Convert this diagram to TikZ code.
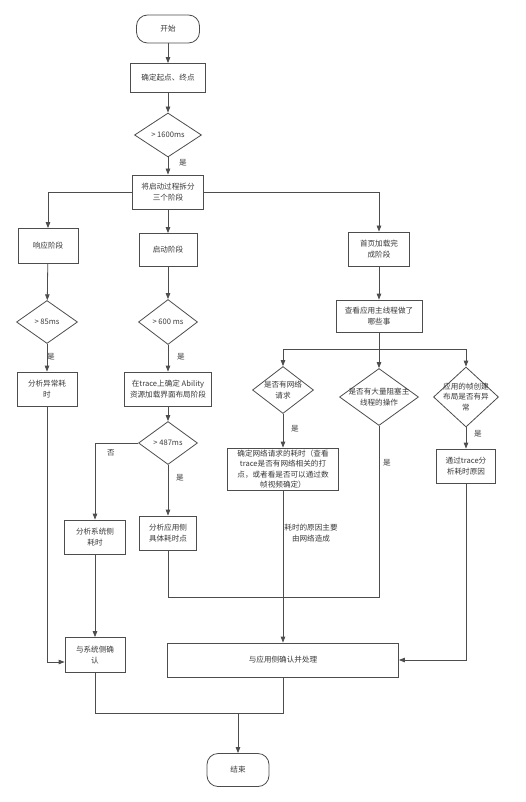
\documentclass[tikz,border=0pt]{standalone}
\usepackage{fontspec}
\setmainfont{Noto Sans CJK SC}
\usetikzlibrary{arrows.meta,shapes.geometric}
\definecolor{lc}{HTML}{4D4D4D}
\definecolor{tc}{HTML}{3A3A3A}
\newcommand{\fsz}{\fontsize{7.6}{10.4}\selectfont}
\tikzset{
  basebox/.style={draw=lc, line width=0.8pt, fill=white, align=center, inner sep=1pt, font=\fsz, text=tc},
  term/.style={basebox, rounded corners=11pt},
  dia/.style={draw=lc, line width=0.8pt, fill=white, diamond, inner sep=0pt},
  txt/.style={align=center, font=\fsz, text=tc, inner sep=0pt},
  lbl/.style={font=\fsz, text=tc, inner sep=0pt},
  arr/.style={draw=lc, line width=0.8pt, -{Triangle[length=6pt,width=4.5pt]}},
  ln/.style={draw=lc, line width=0.8pt}
}
\begin{document}
\begin{tikzpicture}[x=1pt,y=-1pt]
\useasboundingbox (0,0) rectangle (526,802);
% top column
\node[term, minimum width=63pt, minimum height=28pt] (start) at (168,29) {开始};
\node[basebox, minimum width=75pt, minimum height=29pt] (b1) at (168,78) {确定起点、终点};
\node[dia, minimum width=67pt, minimum height=44pt, label={[txt]center:> 1600ms}] (d1600) at (168,135) {};
\node[basebox, minimum width=71pt, minimum height=34pt] (split) at (168,192) {将启动过程拆分\\三个阶段};
% column 1
\node[basebox, minimum width=60pt, minimum height=35pt] (resp) at (48,246) {响应阶段};
\node[dia, minimum width=61pt, minimum height=43pt, label={[txt]center:> 85ms}] (d85) at (47,322) {};
\node[basebox, minimum width=60pt, minimum height=34pt] (abn) at (47,389) {分析异常耗\\时};
% column 2
\node[basebox, minimum width=58pt, minimum height=33pt] (startph) at (168,250) {启动阶段};
\node[dia, minimum width=59pt, minimum height=45pt, label={[txt]center:> 600 ms}] (d600) at (168,322) {};
\node[basebox, minimum width=87pt, minimum height=34pt] (trace1) at (168,389) {在trace上确定 Ability\\资源加载界面布局阶段};
\node[dia, minimum width=59pt, minimum height=43pt, label={[txt]center:> 487ms}] (d487) at (168,443) {};
\node[basebox, minimum width=61pt, minimum height=34pt] (sysan) at (95,537) {分析系统侧\\耗时};
\node[basebox, minimum width=57pt, minimum height=34pt] (appan) at (168,533) {分析应用侧\\具体耗时点};
\node[basebox, minimum width=60pt, minimum height=35pt] (syscf) at (95,655) {与系统侧确\\认};
% column 3
\node[basebox, minimum width=61pt, minimum height=34pt] (home) at (379,249) {首页加载完\\成阶段};
\node[basebox, minimum width=86pt, minimum height=32pt] (main) at (379,316) {查看应用主线程做了\\哪些事};
\node[dia, minimum width=61pt, minimum height=47pt, label={[txt]center:是否有网络\\请求}] (q1) at (283,390) {};
\node[dia, minimum width=79pt, minimum height=57pt, label={[txt]center:是否有大量阻塞主\\线程的操作}] (q2) at (379,397) {};
\node[dia, minimum width=65pt, minimum height=60pt, label={[txt]center:应用的帧创建\\布局是否有异\\常}] (q3) at (466,397) {};
\node[basebox, minimum width=111pt, minimum height=42pt] (net) at (283,469) {确定网络请求的耗时（查看\\trace是否有网络相关的打\\点，或者看是否可以通过数\\帧视频确定）};
\node[basebox, minimum width=59pt, minimum height=34pt] (tr2) at (466,466) {通过trace分\\析耗时原因};
\node[basebox, minimum width=231pt, minimum height=34pt] (appcf) at (283,660) {与应用侧确认并处理};
\node[term, minimum width=62pt, minimum height=33pt] (end) at (238,770) {结束};
% junction coordinates
\coordinate (mj) at (379,349);
\coordinate (mg) at (379,597);
\coordinate (ej) at (238,713);
% connectors
\draw[arr] (start) -- (b1);
\draw[arr] (b1) -- (d1600);
\draw[arr] (d1600) -- (split);
\node[lbl] (y0) at (183,163) {是};
\draw[arr] (split.west) -| (resp.north);
\draw[arr] (split.east) -| (home.north);
\draw[arr] (split) -- (startph);
\draw[arr] (resp) -- (d85);
\draw[arr] (d85) -- (abn);
\node[lbl] (y1) at (51,357) {是};
\draw[arr] (startph) -- (d600);
\draw[arr] (d600) -- (trace1);
\node[lbl] (y2) at (181,357) {是};
\draw[arr] (trace1) -- (d487);
\draw[arr] (d487.west) -| (sysan.north);
\node[lbl] (n1) at (111,453) {否};
\draw[arr] (d487) -- (appan);
\node[lbl] (y3) at (180,478) {是};
\draw[arr] (sysan) -- (syscf);
\draw[arr] (abn.south) |- ([yshift=-7pt]syscf.west);
\draw[arr] (home) -- (main);
\draw[ln] (main) -- (mj);
\draw[arr] (mj) -| (q1.north);
\draw[arr] (mj) -| (q3.north);
\draw[arr] (mj) -- (q2.north);
\draw[arr] (q1) -- (net);
\node[lbl] (y4) at (295,429) {是};
\draw[arr] (q3) -- (tr2);
\node[lbl] (y5) at (478,434) {是};
\node[lbl] (y6) at (387,463) {是};
\draw[ln] (appan.south) |- (mg) -- (q2.south);
\draw[arr] (net) -- (appcf);
\node[txt] (why) at (311,533) {耗时的原因主要\\由网络造成};
\draw[arr] (tr2.south) |- (appcf.east);
\draw[ln] (syscf.south) |- (appcf.south |- ej) -- (appcf.south);
\draw[arr] (ej) -- (end);
\end{tikzpicture}
\end{document}
